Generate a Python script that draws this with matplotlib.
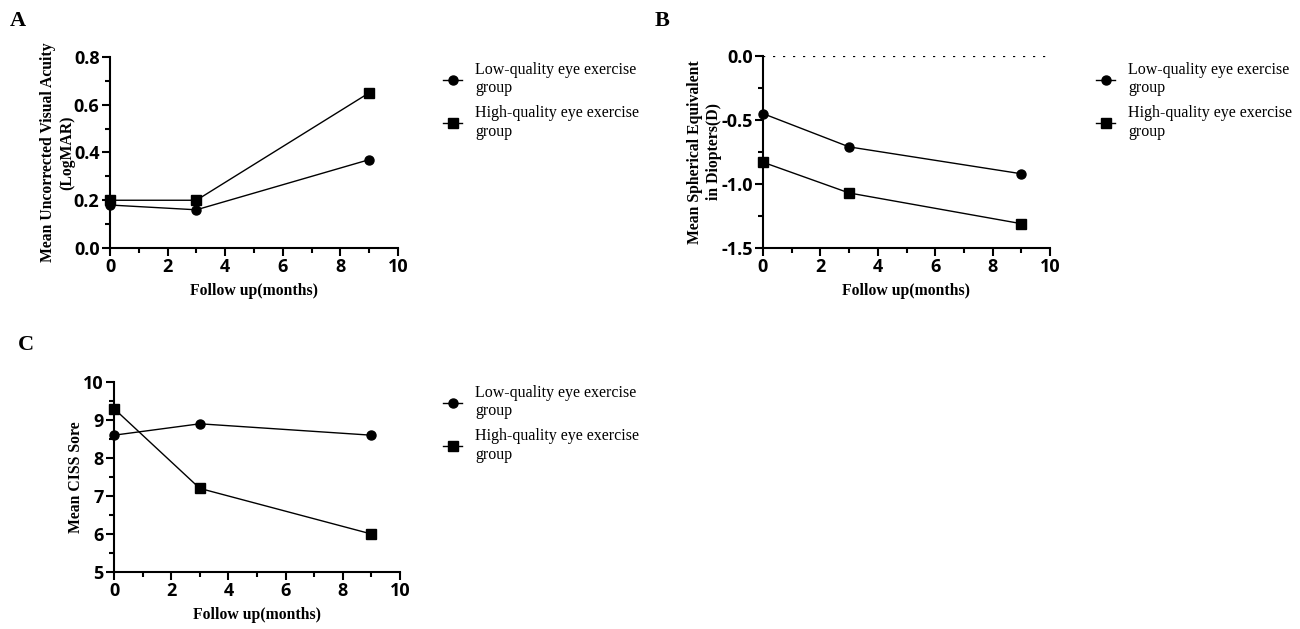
import matplotlib.pyplot as plt
from matplotlib.ticker import MultipleLocator

months = [0, 3, 9]

ucva_low = [0.18, 0.16, 0.37]
ucva_high = [0.20, 0.20, 0.65]

se_low = [-0.45, -0.71, -0.92]
se_high = [-0.83, -1.07, -1.31]

ciss_low = [8.6, 8.9, 8.6]
ciss_high = [9.3, 7.2, 6.0]

labels = ["Low-quality eye exercise\ngroup", "High-quality eye exercise\ngroup"]

W, H = 1300, 629
fig = plt.figure(figsize=(W / 100, H / 100), dpi=100)

TICK_FONT = {"family": "Open Sans", "weight": "bold", "size": 13}
SERIF = "Liberation Serif"


def make_axes(x0, x1, ytop, ybot):
    return fig.add_axes([x0 / W, 1 - ybot / H, (x1 - x0) / W, (ybot - ytop) / H])


def style(ax, ylim, ymajor, yminor, ylabel, fmt=None):
    ax.set_xlim(0, 10)
    ax.set_ylim(*ylim)
    ax.xaxis.set_major_locator(MultipleLocator(2))
    ax.xaxis.set_minor_locator(MultipleLocator(1))
    ax.yaxis.set_major_locator(MultipleLocator(ymajor))
    ax.yaxis.set_minor_locator(MultipleLocator(yminor))
    if fmt:
        ax.yaxis.set_major_formatter(plt.FormatStrFormatter(fmt))
    for s in ["top", "right"]:
        ax.spines[s].set_visible(False)
    for s in ["left", "bottom"]:
        ax.spines[s].set_linewidth(1.5)
    ax.tick_params(which="major", length=6, width=1.5, direction="out")
    ax.tick_params(axis="x", which="major", pad=1.5)
    ax.tick_params(axis="y", which="major", pad=1.5)
    ax.tick_params(which="minor", length=3.5, width=1.5, direction="out")
    for lab in ax.get_xticklabels() + ax.get_yticklabels():
        lab.set_fontproperties(TICK_FONT)
    ax.set_xlabel("Follow up(months)", family=SERIF, weight="bold", fontsize=11.3, labelpad=5)
    ax.set_ylabel(ylabel, family=SERIF, weight="bold", fontsize=11.3, labelpad=-1,
                  linespacing=1.3)
    ax.patch.set_alpha(0)


def draw(ax, low, high, leg_x, leg_y):
    h1, = ax.plot(months, low, color="black", lw=1, marker="o", ms=6.5, clip_on=False, zorder=3)
    h2, = ax.plot(months, high, color="black", lw=1, marker="s", ms=6.5, clip_on=False, zorder=3)
    fig.legend([h1, h2], labels, loc="upper left",
               bbox_to_anchor=(leg_x / W, 1 - leg_y / H),
               frameon=False, handlelength=1.2, handletextpad=0.8,
               labelspacing=0.55, borderaxespad=0, borderpad=0,
               prop={"family": SERIF, "size": 11.5})


# A
axA = make_axes(110, 398, 57, 248)
draw(axA, ucva_low, ucva_high, 443, 62)
style(axA, (0, 0.8), 0.2, 0.1, "Mean Uncorrected Visual Acuity\n(LogMAR)", "%.1f")

# B
axB = make_axes(763, 1050, 56, 248)
axB.axhline(0, color="black", lw=1.6, ls=(0, (1, 3.5)), zorder=1)
draw(axB, se_low, se_high, 1096, 62)
style(axB, (-1.5, 0), 0.5, 0.25, "Mean Spherical Equivalent\nin Diopters(D)", "%.1f")

# C
axC = make_axes(114, 400, 382, 572)
draw(axC, ciss_low, ciss_high, 443, 385)
style(axC, (5, 10), 1, 0.5, "Mean CISS Sore")

for txt, x, y in [("A", 10, 11), ("B", 655, 11), ("C", 18, 335)]:
    fig.text(x / W, 1 - y / H, txt, family=SERIF, weight="bold", fontsize=16, va="top")

fig.savefig("out.png", dpi=100)
